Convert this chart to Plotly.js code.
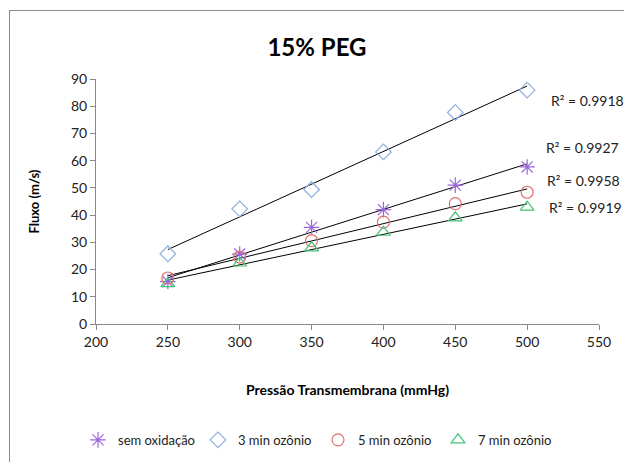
<!DOCTYPE html>
<html>
<head>
<meta charset="utf-8">
<script src="https://cdn.plot.ly/plotly-3.0.1.min.js"></script>
<style>
  html, body { margin: 0; padding: 0; background: #fff; overflow: hidden; }
  #chart { position: absolute; left: 0; top: 0; width: 624px; height: 462px; }
  #frame { position: absolute; left: 9px; top: 10px; width: 700px; height: 500px;
           border: 1.5px solid #8a8a8a; pointer-events: none; }
</style>
</head>
<body>
<div id="chart"></div>
<div id="frame"></div>
<script>
const pressao = [250, 300, 350, 400, 450, 500];
const semOxidacao = [15.6, 25.7, 35.5, 42.0, 51.0, 57.7];
const min3 = [25.8, 42.3, 49.4, 63.2, 77.7, 85.9];
const min5 = [16.9, 24.6, 30.6, 37.4, 44.2, 48.4];
const min7 = [14.8, 22.4, 28.0, 33.7, 39.0, 42.9];
const seriesNames = ['sem oxidação', '3 min ozônio', '5 min ozônio', '7 min ozônio'];
const r2Labels = ['R² = 0.9927', 'R² = 0.9918', 'R² = 0.9958', 'R² = 0.9919'];
const xTicks = [200, 250, 300, 350, 400, 450, 500, 550];
const yTicks = [0, 10, 20, 30, 40, 50, 60, 70, 80, 90];

const FONT = 'Lato, "Open Sans", sans-serif';
const series = [semOxidacao, min3, min5, min7];
const colors = ['#9a66dd', '#8fb0e0', '#e07070', '#44c477'];
const symbols = ['asterisk-open', 'diamond-open', 'circle-open', 'triangle-up-open'];
const sizes = [13, 12, 12, 12];

function fit(xs, ys) {
  const n = xs.length;
  const mx = xs.reduce((a, b) => a + b, 0) / n;
  const my = ys.reduce((a, b) => a + b, 0) / n;
  let sxy = 0, sxx = 0;
  for (let i = 0; i < n; i++) { sxy += (xs[i] - mx) * (ys[i] - my); sxx += (xs[i] - mx) ** 2; }
  const m = sxy / sxx;
  return { m: m, b: my - m * mx };
}

const traces = [];
const xmin = Math.min(...pressao), xmax = Math.max(...pressao);
series.forEach((ys, i) => {
  const f = fit(pressao, ys);
  traces.push({
    x: [xmin, xmax], y: [f.m * xmin + f.b, f.m * xmax + f.b],
    mode: 'lines', line: { color: '#000', width: 1 }, showlegend: false, hoverinfo: 'skip'
  });
});
series.forEach((ys, i) => {
  traces.push({
    x: pressao, y: ys, name: seriesNames[i], mode: 'markers',
    marker: { symbol: symbols[i], size: sizes[i], color: colors[i], line: { color: colors[i], width: 1.2 } }
  });
});

const r2Y = [147, 100, 180, 207];
const r2X = [582, 587, 583, 585];
const annotations = r2Labels.map((t, i) => ({
  text: t, xref: 'paper', yref: 'paper', x: (r2X[i] - 96) / 503, y: (324 - r2Y[i]) / 245,
  xanchor: 'center', yanchor: 'middle', showarrow: false,
  font: { family: FONT, size: 14, color: '#222' }
}));

const layout = {
  width: 624, height: 462,
  margin: { l: 96, r: 25, t: 79, b: 138, autoexpand: false },
  paper_bgcolor: '#fff', plot_bgcolor: '#fff',
  font: { family: FONT, size: 13, color: '#222' },
  title: { text: '<b>15% PEG</b>', x: 0.508, xanchor: 'center', y: 0.898, yanchor: 'middle',
           font: { family: FONT, size: 24, color: '#000' } },
  xaxis: {
    range: [200, 550], tickvals: xTicks, ticks: 'outside', ticklen: 5, tickcolor: '#888',
    showline: true, linecolor: '#888', linewidth: 1, showgrid: false, zeroline: false,
    tickfont: { family: FONT, size: 14, color: '#222' }, automargin: false,
    title: { text: '<b>Pressão Transmembrana (mmHg)</b>', standoff: 36, font: { family: FONT, size: 14, color: '#000' } }
  },
  yaxis: {
    range: [0, 90], tickvals: yTicks, ticks: 'outside', ticklen: 5, tickcolor: '#888',
    showline: true, linecolor: '#888', linewidth: 1, showgrid: false, zeroline: false,
    tickfont: { family: FONT, size: 14, color: '#222' }, automargin: false,
    title: { text: '<b>Fluxo (m/s)</b>', standoff: 28, font: { family: FONT, size: 13, color: '#000' } }
  },
  legend: {
    orientation: 'h', x: (78 - 96) / 503, xanchor: 'left', y: -0.473, yanchor: 'middle',
    font: { family: FONT, size: 13, color: '#222' }, itemwidth: 30, entrywidth: 75,
    entrywidthmode: 'pixels', traceorder: 'normal'
  },
  annotations: annotations,
  showlegend: true
};

Plotly.newPlot('chart', traces, layout, { displayModeBar: false, staticPlot: true });
</script>
</body>
</html>
